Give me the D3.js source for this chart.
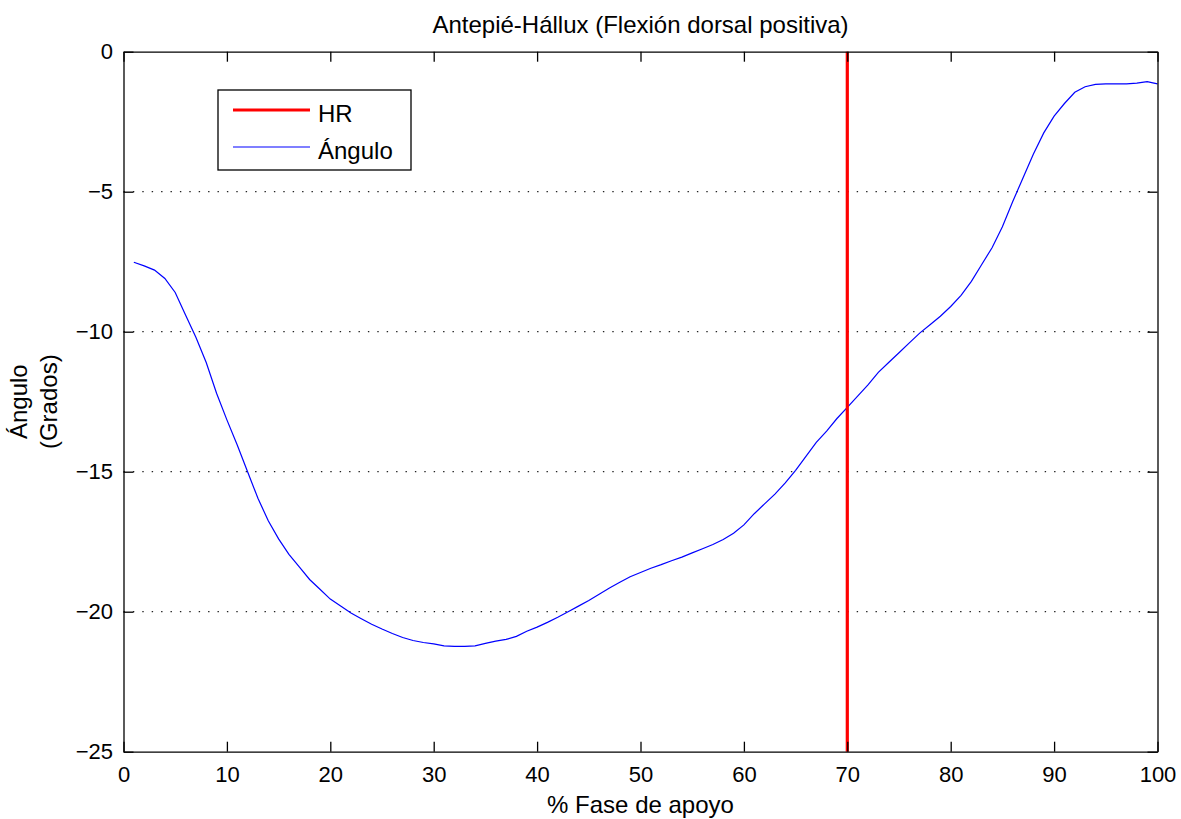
<!DOCTYPE html>
<html>
<head>
<meta charset="utf-8">
<script src="https://cdn.jsdelivr.net/npm/d3@7/dist/d3.min.js"></script>
<style>
  html, body { margin: 0; padding: 0; background: #fff; }
  svg { display: block; }
  text { font-family: "Liberation Sans", Arial, sans-serif; fill: #000; }
</style>
</head>
<body>
<svg id="chart" width="1181" height="819"></svg>
<script>
// Stance phase (%) and forefoot–hallux angle (degrees, dorsal flexion positive)
const phase = d3.range(1, 101);
const angle = [
  -7.52, -7.65, -7.80, -8.10, -8.60, -9.40, -10.20, -11.10, -12.20, -13.15,
  -14.05, -15.00, -15.95, -16.75, -17.40, -17.95, -18.40, -18.85, -19.20, -19.55,
  -19.80, -20.05, -20.25, -20.45, -20.62, -20.78, -20.92, -21.03, -21.10, -21.15,
  -21.22, -21.24, -21.24, -21.22, -21.13, -21.05, -20.99, -20.88, -20.70, -20.55,
  -20.38, -20.20, -20.00, -19.80, -19.60, -19.38, -19.15, -18.95, -18.75, -18.60,
  -18.45, -18.32, -18.18, -18.05, -17.90, -17.75, -17.60, -17.42, -17.20, -16.90,
  -16.50, -16.15, -15.80, -15.40, -14.95, -14.45, -13.95, -13.55, -13.10, -12.70,
  -12.30, -11.90, -11.45, -11.10, -10.75, -10.40, -10.05, -9.75, -9.45, -9.10,
  -8.70, -8.20, -7.60, -7.00, -6.25, -5.35, -4.50, -3.65, -2.90, -2.30,
  -1.85, -1.45, -1.25, -1.17, -1.15, -1.15, -1.15, -1.12, -1.07, -1.15
];
const hrPhase = 70;            // heel rise
const xTicks = d3.range(0, 101, 10);
const yTicks = [0, -5, -10, -15, -20, -25];
const gridValues = [-5, -10, -15, -20];

const titleText = "Antepié-Hállux (Flexión dorsal positiva)";
const xLabel = "% Fase de apoyo";
const yLabelLines = ["Ángulo", "(Grados)"];
const legendItems = [
  { label: "HR", color: "#ff0000", thick: true },
  { label: "Ángulo", color: "#0000ff", thick: false }
];

const svg = d3.select("#chart");
const plotL = 123.5, plotR = 1157.5, plotT = 51.7, plotB = 751.7;

const x = d3.scaleLinear().domain([0, 100]).range([plotL, plotR]);
const y = d3.scaleLinear().domain([-25, 0]).range([plotB, plotT]);
const fsTick = 22;   // tick labels
const fsText = 24;   // title, axis labels, legend
const tickLen = 10;

// dotted horizontal grid
svg.append("g").selectAll("line").data(gridValues).join("line")
  .attr("x1", plotL).attr("x2", plotR)
  .attr("y1", d => y(d)).attr("y2", d => y(d))
  .attr("stroke", "#222").attr("stroke-width", 1.2)
  .attr("stroke-dasharray", "1.4 8");

// angle curve
const line = d3.line().x((d, i) => x(phase[i])).y(d => y(d));
svg.append("path").datum(angle)
  .attr("d", line)
  .attr("fill", "none")
  .attr("stroke", "#0000ff")
  .attr("stroke-width", 1.2);

// heel-rise marker
svg.append("line")
  .attr("x1", x(hrPhase)).attr("x2", x(hrPhase))
  .attr("y1", y(0)).attr("y2", y(-25))
  .attr("stroke", "#ff0000").attr("stroke-width", 3.2);

// axes: ticks pointing inward on all four sides
const xAxisB = d3.axisBottom(x).tickValues(xTicks).tickSizeInner(-tickLen).tickSizeOuter(0).tickPadding(14.5);
const xAxisT = d3.axisTop(x).tickValues(xTicks).tickSizeInner(-tickLen).tickSizeOuter(0).tickFormat("");
const yAxisL = d3.axisLeft(y).tickValues(yTicks).tickSizeInner(-tickLen).tickSizeOuter(0).tickPadding(10.5);
const yAxisR = d3.axisRight(y).tickValues(yTicks).tickSizeInner(-tickLen).tickSizeOuter(0).tickFormat("");

function styleAxis(g) {
  g.select(".domain").attr("stroke", "#000").attr("stroke-width", 1.3);
  g.selectAll(".tick line").attr("stroke", "#000").attr("stroke-width", 1.3);
  g.selectAll(".tick text").attr("font-size", fsTick).attr("font-family", "Liberation Sans, Arial, sans-serif").attr("fill", "#000");
}

svg.append("g").attr("transform", `translate(0,${plotB})`).call(xAxisB).call(styleAxis);
svg.append("g").attr("transform", `translate(0,${plotT})`).call(xAxisT).call(styleAxis);
svg.append("g").attr("transform", `translate(${plotL},0)`).call(yAxisL).call(styleAxis);
svg.append("g").attr("transform", `translate(${plotR},0)`).call(yAxisR).call(styleAxis);

// title and axis labels
svg.append("text")
  .attr("x", (plotL + plotR) / 2).attr("y", 33)
  .attr("text-anchor", "middle").attr("font-size", fsText)
  .text(titleText);

svg.append("text")
  .attr("x", (plotL + plotR) / 2).attr("y", 813)
  .attr("text-anchor", "middle").attr("font-size", fsText)
  .text(xLabel);

const yl = svg.append("text")
  .attr("transform", `translate(0,${(plotT + plotB) / 2}) rotate(-90)`)
  .attr("text-anchor", "middle").attr("font-size", fsText);
yLabelLines.forEach((t, i) => {
  yl.append("tspan").attr("x", 0).attr("y", 27 + i * 30).text(t);
});

// legend
const lg = svg.append("g").attr("transform", "translate(218,90)");
lg.append("rect").attr("width", 193).attr("height", 80)
  .attr("fill", "#fff").attr("stroke", "#000").attr("stroke-width", 1.3);
legendItems.forEach((d, i) => {
  const yy = 20 + i * 37;
  lg.append("line").attr("x1", 15).attr("x2", 92).attr("y1", yy).attr("y2", yy)
    .attr("stroke", d.color).attr("stroke-width", d.thick ? 3.2 : 1.2);
  lg.append("text").attr("x", 100).attr("y", yy + 11.5).attr("font-size", fsText).text(d.label);
});
</script>
</body>
</html>
